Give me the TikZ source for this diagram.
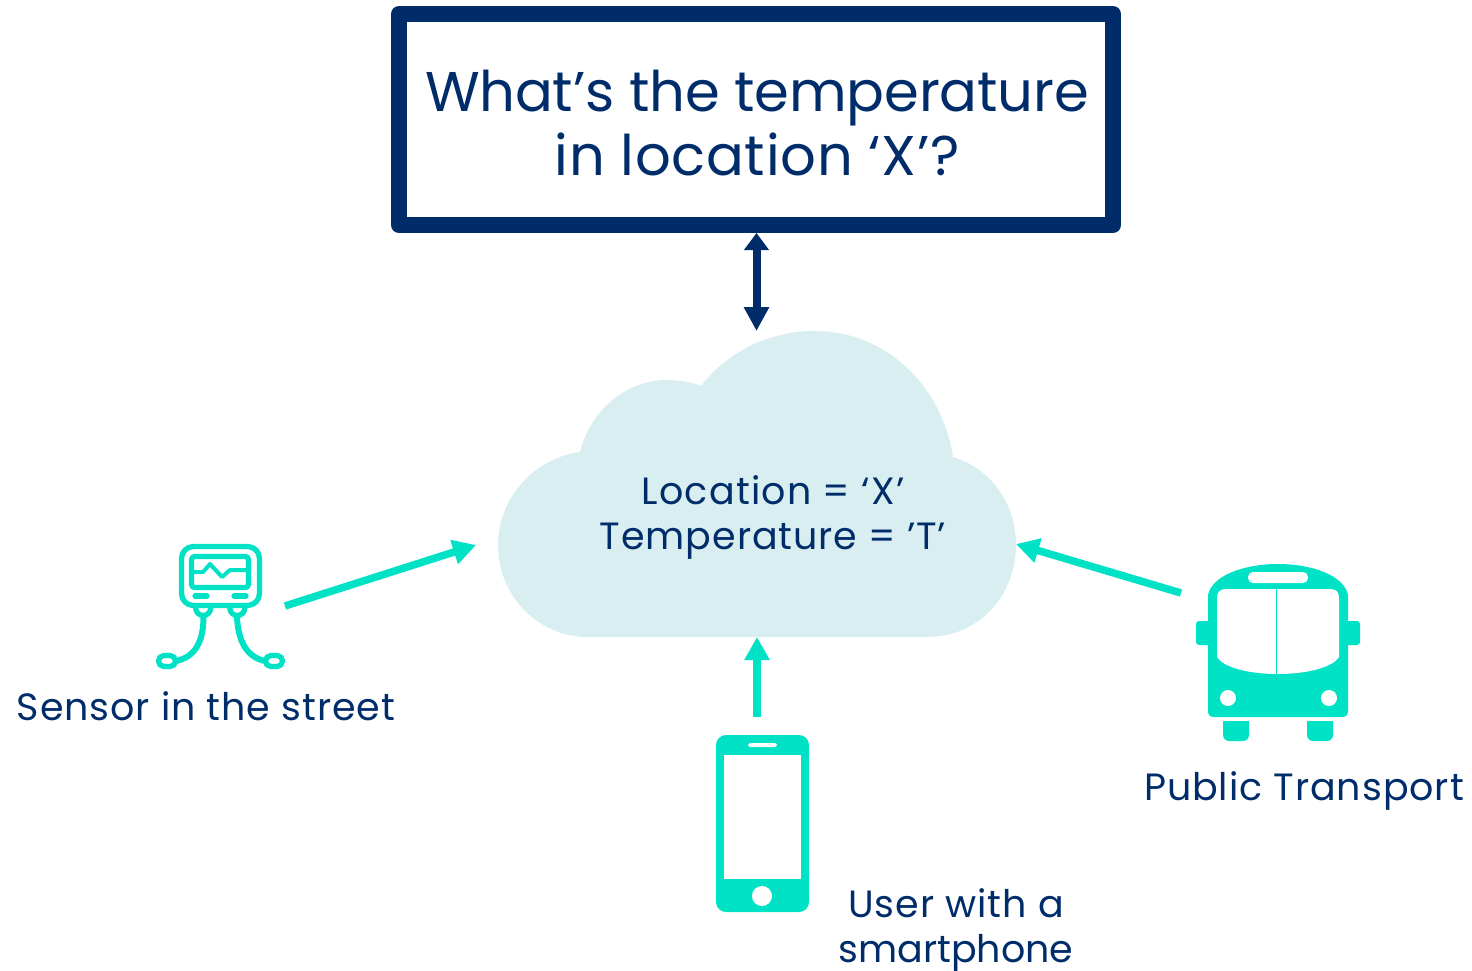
\documentclass[tikz,border=0pt]{standalone}
\usepackage{fontspec}
\setmainfont{Poppins}
\usetikzlibrary{arrows.meta}
\definecolor{navy}{HTML}{002D6A}
\definecolor{teal}{HTML}{00E2C6}
\definecolor{cloudc}{HTML}{D9EEF1}
\newfontfamily\labelfont[LetterSpace=2.5]{Poppins}
\newfontfamily\tightfont[LetterSpace=0]{Poppins}
\newfontfamily\wideLabelfont[LetterSpace=3.2]{Poppins}
\newfontfamily\titlefontA[LetterSpace=-0.3]{Poppins}
\newfontfamily\titlefontB[LetterSpace=1.3]{Poppins}
\tikzset{
  titlebox/.style={draw=navy,line width=16pt,line join=round,fill=white},
  titletext/.style={text=navy,align=center,font=\fontsize{56}{64}\selectfont,inner sep=0pt},
  label/.style={text=navy,align=center,font=\labelfont\fontsize{38}{45}\selectfont,inner sep=0pt},
  feed/.style={draw=teal,line width=7.5pt,-{Triangle[length=23pt,width=24pt]}},
  query/.style={draw=navy,line width=8pt,{Triangle[length=17pt,width=24pt]}-{Triangle[length=24pt,width=24pt]}},
  iconline/.style={draw=teal,line width=5.3pt,line cap=round,line join=round},
  iconfill/.style={fill=teal},
  hole/.style={fill=white},
}
\begin{document}
\begin{tikzpicture}[x=1pt,y=-1pt]
\useasboundingbox (0,0) rectangle (1472,971);
% title
\draw[titlebox] (399,14) rectangle (1113,225);
\node[titletext] (title) at (757,123) {{\titlefontA What’s the temperature}\\{\titlefontB in location ‘X’?}};
% cloud
\fill[cloudc] (588,637)
  .. controls (538,637) and (498,596) .. (498,545)
  .. controls (498,497) and (535,458) .. (580,452)
  .. controls (590,411) and (626,380) .. (666,380)
  .. controls (679,380) and (691,382) .. (701,386)
  .. controls (728,351) and (770,331) .. (815,331)
  .. controls (885,331) and (942,385) .. (953,457)
  .. controls (990,468) and (1016,503) .. (1016,545)
  .. controls (1016,596) and (978,637) .. (928,637)
  -- cycle;
\node[label] (cloudtext) at (773,517) {{\wideLabelfont\fontsize{38}{45}\selectfont Location = ‘X’}\\Temperature = ’T’};
\coordinate (cloudtop) at (756.5,331);
\coordinate (cloudleft) at (476,545);
\coordinate (cloudright) at (1016,544);
\coordinate (cloudbottom) at (757,637);
\coordinate (titlebottom) at (756.5,233);
% sensor
\draw[iconline,rounded corners=12pt] (181.5,546.5) rectangle (259.5,605.5);
\draw[iconline,rounded corners=3pt] (191.5,556.5) rectangle (248.5,587.5);
\draw[iconline,line width=4pt] (193,572) -- (203,572) -- (210,564) -- (222,577) -- (230,570) -- (247,570);
\draw[iconline] (195,596) -- (207,596);
\draw[iconline] (234,596) -- (246,596);
\draw[iconline] (195.7,608) arc[start angle=180,end angle=0,radius=7.5];
\draw[iconline] (229.8,608) arc[start angle=180,end angle=0,radius=7.5];
\draw[iconline,line width=6pt] (203.5,617) .. controls (203.5,640) and (196,657) .. (176,661);
\draw[iconline,line width=6pt] (237,617) .. controls (238,640) and (246,657) .. (265,661);
\draw[iconline,rounded corners=5.4pt] (158.5,655.5) rectangle (175.5,666.5);
\draw[iconline,rounded corners=5.4pt] (265.5,655.5) rectangle (282.5,666.5);
\node[label,anchor=base] (sensorlabel) at (206,720) {Sensor in the street};
\coordinate (sensorout) at (285,606);
% phone
\fill[iconfill,rounded corners=10pt] (716,735) rectangle (809,912);
\fill[hole] (724,755) rectangle (801,879);
\fill[hole,rounded corners=1.8pt] (748,743) rectangle (777,747);
\fill[hole] (762,896) circle[radius=10];
\node[label] (phonelabel) at (956,930) {User with a\\{\tightfont\fontsize{38}{45}\selectfont smartphone}};
\coordinate (phoneout) at (757,717);
% bus
\fill[iconfill,rounded corners=3pt] (1196,621) rectangle (1212,645);
\fill[iconfill,rounded corners=3pt] (1344,621) rectangle (1360,645);
\fill[iconfill] (1223,721) -- (1249,721) [rounded corners=6pt] -- (1249,741) -- (1223,741) [sharp corners] -- cycle;
\fill[iconfill] (1307,721) -- (1333,721) [rounded corners=6pt] -- (1333,741) -- (1307,741) [sharp corners] -- cycle;
\fill[iconfill] (1208,595) .. controls (1212,575) and (1245,564) .. (1278,564)
  .. controls (1311,564) and (1344,575) .. (1348,595)
  -- (1348,711) .. controls (1348,715) and (1346,717) .. (1342,717)
  -- (1214,717) .. controls (1210,717) and (1208,715) .. (1208,711) -- cycle;
\fill[hole] (1217,598) .. controls (1217,592) and (1220,589) .. (1226,589)
  -- (1330,589) .. controls (1336,589) and (1339,592) .. (1339,598)
  -- (1339,657) .. controls (1332,668) and (1305,674) .. (1278,674)
  .. controls (1250,674) and (1224,668) .. (1217,657) -- cycle;
\fill[iconfill] (1275.6,589) rectangle (1277.4,674);
\fill[hole,rounded corners=5pt] (1248,572) rectangle (1308,583);
\fill[hole] (1228,698) circle[radius=8];
\fill[hole] (1329,698) circle[radius=8];
\node[label,anchor=base] (buslabel) at (1304,800) {Public Transport};
\coordinate (busout) at (1181,593);
% connectors
\draw[query] (titlebottom) -- (cloudtop);
\draw[feed] (sensorout) -- (cloudleft);
\draw[feed] (busout) -- (cloudright);
\draw[feed] (phoneout) -- (cloudbottom);
\end{tikzpicture}
\end{document}
